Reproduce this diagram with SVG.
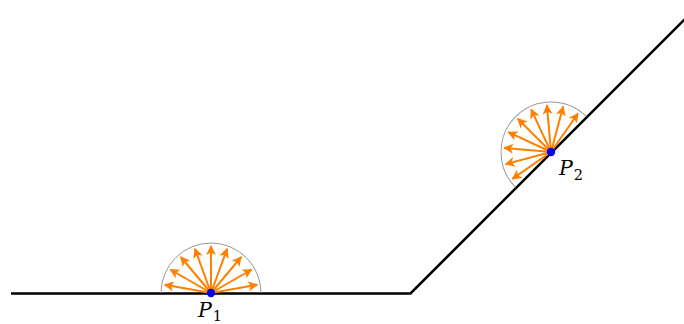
<svg xmlns="http://www.w3.org/2000/svg" width="684" height="324" viewBox="0 0 684 324">
<style>
.ray{stroke:#ff8000;stroke-width:2;fill:none;marker-end:url(#ah)}
.arc{stroke:#999;stroke-width:1;fill:none}
.dot{fill:#0000ff}
.lbl{font-family:"DejaVu Serif","Liberation Serif",serif;font-style:italic;font-size:20.5px;fill:#000}
.sub{font-style:normal;font-size:14.5px}
</style>
<defs>
<marker id="ah" viewBox="0 0 10 10" refX="9" refY="5" markerWidth="5" markerHeight="5" orient="auto" markerUnits="strokeWidth">
<path d="M0,0 L10,5 L0,10 L2.5,5 Z" fill="#ff8000"/>
</marker>
<g id="fan">
<path class="arc" d="M50,0 A50,50 0 0 0 -50,0"/>
<line class="ray" x1="0" y1="0" x2="46.3" y2="-8.2"/>
<line class="ray" x1="0" y1="0" x2="40.7" y2="-23.5"/>
<line class="ray" x1="0" y1="0" x2="30.2" y2="-36"/>
<line class="ray" x1="0" y1="0" x2="16.1" y2="-44.2"/>
<line class="ray" x1="0" y1="0" x2="0" y2="-47"/>
<line class="ray" x1="0" y1="0" x2="-16.1" y2="-44.2"/>
<line class="ray" x1="0" y1="0" x2="-30.2" y2="-36"/>
<line class="ray" x1="0" y1="0" x2="-40.7" y2="-23.5"/>
<line class="ray" x1="0" y1="0" x2="-46.3" y2="-8.2"/>
</g>
</defs>
<g id="connectors">
<polyline points="11,293.5 410.5,293.5 685,19" fill="none" stroke="#000" stroke-width="2.6"/>
</g>
<g id="P1">
<use href="#fan" transform="translate(211,293)"/>
<circle class="dot" cx="211" cy="293" r="4.2"/>
<text class="lbl" x="198" y="316.5">P<tspan class="sub" dx="1" dy="4">1</tspan></text>
</g>
<g id="P2">
<use href="#fan" transform="translate(551,152) rotate(-45)"/>
<circle class="dot" cx="551" cy="152" r="4.2"/>
<text class="lbl" x="559" y="175">P<tspan class="sub" dx="1" dy="5">2</tspan></text>
</g>
</svg>
